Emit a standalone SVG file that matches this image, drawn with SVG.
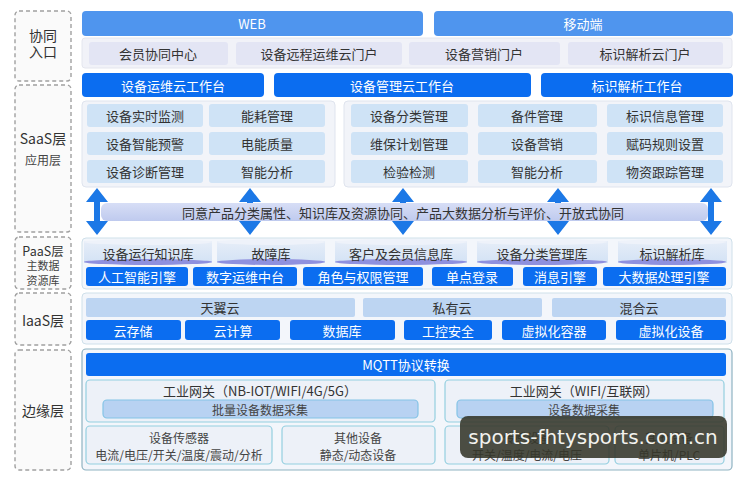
<svg xmlns="http://www.w3.org/2000/svg" width="748" height="480" viewBox="0 0 748 480">
<defs>
<style>
text{font-family:"Noto Sans CJK SC","Liberation Sans",sans-serif;text-anchor:middle;dominant-baseline:central;}
.lbl{font-size:13px;fill:#333;}
.sub{font-size:12px;fill:#444;}
.dash{fill:#fafafa;stroke:#a0a0a0;stroke-width:1.4;stroke-dasharray:4 3;}
.light{fill:#4f95ee;}
.blue{fill:#0b6df0;}
.wt{font-size:13px;fill:#fff;}
.portal{fill:#e3e5f4;}
.cont{fill:#f2f4f9;stroke:#dfe4ee;stroke-width:1;}
.sitem{fill:#cfe3f6;}
.dt{font-size:13px;fill:#333;}
.cloud{fill:#bdd5f2;}
.gw{fill:#edf1f8;stroke:#94cfe0;stroke-width:1.2;}
.coll{fill:#b8d2f2;stroke:#84c3e6;stroke-width:1.2;}
.arrow{fill:#1c78e6;}
</style>
<linearGradient id="band" x1="0" y1="0" x2="0" y2="1">
<stop offset="0" stop-color="#d7def6"/>
<stop offset="1" stop-color="#bfcaee"/>
</linearGradient>
<linearGradient id="db" x1="0" y1="0" x2="0" y2="1">
<stop offset="0" stop-color="#e6edf8"/>
<stop offset="1" stop-color="#d3e2f5"/>
</linearGradient>
</defs>
<rect width="748" height="480" fill="#ffffff"/>

<!-- left layer labels -->
<g id="layer-entry"><rect class="dash" x="15" y="11" width="56" height="70" rx="4"/><text class="lbl" x="43" y="35" style="font-size:14px">协同</text><text class="lbl" x="43" y="51" style="font-size:14px">入口</text></g>
<g id="layer-saas"><rect class="dash" x="15" y="85" width="56" height="147" rx="4"/><text class="lbl" x="43" y="138" style="font-size:14px">SaaS层</text><text class="sub" x="43" y="159">应用层</text></g>
<g id="layer-paas"><rect class="dash" x="15" y="237" width="56" height="52" rx="4"/><text class="lbl" x="43" y="250" style="font-size:12.5px">PaaS层</text><text class="sub" x="43" y="265" style="font-size:11px">主数据</text><text class="sub" x="43" y="279.5" style="font-size:11px">资源库</text></g>
<g id="layer-iaas"><rect class="dash" x="15" y="293" width="56" height="52" rx="4"/><text class="lbl" x="43" y="320" style="font-size:14px">IaaS层</text></g>
<g id="layer-edge"><rect class="dash" x="15" y="350" width="56" height="120" rx="4"/><text class="lbl" x="43" y="410" style="font-size:14px">边缘层</text></g>

<!-- entry -->
<g id="web"><rect class="light" x="82" y="11" width="341" height="25" rx="4"/><text class="wt" x="252" y="23.5">WEB</text></g>
<g id="mobile"><rect class="light" x="434" y="11" width="299" height="25" rx="4"/><text class="wt" x="583" y="23.5">移动端</text></g>
<g id="portals">
<rect x="82" y="38" width="650" height="30" rx="3" fill="#f1f2f8" stroke="#e4e6ee"/>
<rect class="portal" x="89" y="42" width="139" height="23" rx="3"/><text class="dt" x="158" y="53.5">会员协同中心</text>
<rect class="portal" x="236" y="42" width="166" height="23" rx="3"/><text class="dt" x="319" y="53.5">设备远程运维云门户</text>
<rect class="portal" x="409" y="42" width="151" height="23" rx="3"/><text class="dt" x="484" y="53.5">设备营销门户</text>
<rect class="portal" x="568" y="42" width="155" height="23" rx="3"/><text class="dt" x="645" y="53.5">标识解析云门户</text>
</g>
<g id="wb1"><rect class="blue" x="82" y="73" width="182" height="24" rx="4"/><text class="wt" x="173" y="85">设备运维云工作台</text></g>
<g id="wb2"><rect class="blue" x="274" y="73" width="257" height="24" rx="4"/><text class="wt" x="402" y="85">设备管理云工作台</text></g>
<g id="wb3"><rect class="blue" x="541" y="73" width="192" height="24" rx="4"/><text class="wt" x="637" y="85">标识解析工作台</text></g>

<!-- SaaS -->
<g id="saas-left">
<rect class="cont" x="82" y="101" width="253" height="86" rx="4"/>
<rect class="sitem" x="87" y="104" width="116" height="23" rx="3"/><text class="dt" x="145" y="115.5">设备实时监测</text>
<rect class="sitem" x="209" y="104" width="116" height="23" rx="3"/><text class="dt" x="267" y="115.5">能耗管理</text>
<rect class="sitem" x="87" y="132" width="116" height="23" rx="3"/><text class="dt" x="145" y="143.5">设备智能预警</text>
<rect class="sitem" x="209" y="132" width="116" height="23" rx="3"/><text class="dt" x="267" y="143.5">电能质量</text>
<rect class="sitem" x="87" y="160" width="116" height="23" rx="3"/><text class="dt" x="145" y="171.5">设备诊断管理</text>
<rect class="sitem" x="209" y="160" width="116" height="23" rx="3"/><text class="dt" x="267" y="171.5">智能分析</text>
</g>
<g id="saas-right">
<rect class="cont" x="344" y="101" width="388" height="86" rx="4"/>
<rect class="sitem" x="351" y="104" width="117" height="23" rx="3"/><text class="dt" x="409" y="115.5">设备分类管理</text>
<rect class="sitem" x="478" y="104" width="119" height="23" rx="3"/><text class="dt" x="537" y="115.5">备件管理</text>
<rect class="sitem" x="607" y="104" width="116" height="23" rx="3"/><text class="dt" x="665" y="115.5">标识信息管理</text>
<rect class="sitem" x="351" y="132" width="117" height="23" rx="3"/><text class="dt" x="409" y="143.5">维保计划管理</text>
<rect class="sitem" x="478" y="132" width="119" height="23" rx="3"/><text class="dt" x="537" y="143.5">设备营销</text>
<rect class="sitem" x="607" y="132" width="116" height="23" rx="3"/><text class="dt" x="665" y="143.5">赋码规则设置</text>
<rect class="sitem" x="351" y="160" width="117" height="23" rx="3"/><text class="dt" x="409" y="171.5">检验检测</text>
<rect class="sitem" x="478" y="160" width="119" height="23" rx="3"/><text class="dt" x="537" y="171.5">智能分析</text>
<rect class="sitem" x="607" y="160" width="116" height="23" rx="3"/><text class="dt" x="665" y="171.5">物资跟踪管理</text>
</g>

<!-- connectors -->
<g id="connectors">
<path class="arrow" d="M97 188 L108 202 L100 202 L100 221 L108 221 L97 235 L86 221 L94 221 L94 202 L86 202 Z"/>
<path class="arrow" d="M250 188 L261 202 L253 202 L253 221 L261 221 L250 235 L239 221 L247 221 L247 202 L239 202 Z"/>
<path class="arrow" d="M403 188 L414 202 L406 202 L406 221 L414 221 L403 235 L392 221 L400 221 L400 202 L392 202 Z"/>
<path class="arrow" d="M558 188 L569 202 L561 202 L561 221 L569 221 L558 235 L547 221 L555 221 L555 202 L547 202 Z"/>
<path class="arrow" d="M711 188 L722 202 L714 202 L714 221 L722 221 L711 235 L700 221 L708 221 L708 202 L700 202 Z"/>
</g>
<g id="band"><rect x="101" y="203" width="607" height="18" rx="6" fill="url(#band)"/><text class="dt" x="403" y="212">同意产品分类属性、知识库及资源协同、产品大数据分析与评价、开放式协同</text></g>

<!-- PaaS -->
<g id="paas">
<rect x="82" y="238" width="650" height="51" rx="4" fill="#f3f6fb" stroke="#cfe0ea"/>
<g id="db1"><rect x="84" y="241" width="128" height="22" fill="url(#db)"/><ellipse cx="148" cy="242" rx="64" ry="3" fill="#eef2fa"/><ellipse cx="148" cy="262" rx="64" ry="3" fill="#8f90de"/><text class="dt" x="148" y="253">设备运行知识库</text></g>
<g id="db2"><rect x="217" y="241" width="108" height="22" fill="url(#db)"/><ellipse cx="271" cy="242" rx="54" ry="3" fill="#eef2fa"/><ellipse cx="271" cy="262" rx="54" ry="3" fill="#8f90de"/><text class="dt" x="271" y="253">故障库</text></g>
<g id="db3"><rect x="335" y="241" width="132" height="22" fill="url(#db)"/><ellipse cx="401" cy="242" rx="66" ry="3" fill="#eef2fa"/><ellipse cx="401" cy="262" rx="66" ry="3" fill="#8f90de"/><text class="dt" x="401" y="253">客户及会员信息库</text></g>
<g id="db4"><rect x="477" y="241" width="131" height="22" fill="url(#db)"/><ellipse cx="542" cy="242" rx="65" ry="3" fill="#eef2fa"/><ellipse cx="542" cy="262" rx="65" ry="3" fill="#8f90de"/><text class="dt" x="542" y="253">设备分类管理库</text></g>
<g id="db5"><rect x="618" y="241" width="109" height="22" fill="url(#db)"/><ellipse cx="672" cy="242" rx="54" ry="3" fill="#eef2fa"/><ellipse cx="672" cy="262" rx="54" ry="3" fill="#8f90de"/><text class="dt" x="672" y="253">标识解析库</text></g>
<rect class="blue" x="86" y="267" width="102" height="19" rx="3"/><text class="wt" x="137" y="276.5">人工智能引擎</text>
<rect class="blue" x="193" y="267" width="104" height="19" rx="3"/><text class="wt" x="245" y="276.5">数字运维中台</text>
<rect class="blue" x="303" y="267" width="120" height="19" rx="3"/><text class="wt" x="363" y="276.5">角色与权限管理</text>
<rect class="blue" x="432" y="267" width="81" height="19" rx="3"/><text class="wt" x="472" y="276.5">单点登录</text>
<rect class="blue" x="523" y="267" width="74" height="19" rx="3"/><text class="wt" x="560" y="276.5">消息引擎</text>
<rect class="blue" x="603" y="267" width="123" height="19" rx="3"/><text class="wt" x="664" y="276.5">大数据处理引擎</text>
</g>

<!-- IaaS -->
<g id="iaas">
<rect x="82" y="293" width="650" height="51" rx="4" fill="#f3f6fb" stroke="#cfe0ea"/>
<rect class="cloud" x="86" y="298" width="269" height="19" rx="2"/><text class="dt" x="220" y="307.5">天翼云</text>
<rect class="cloud" x="363" y="298" width="179" height="19" rx="2"/><text class="dt" x="452" y="307.5">私有云</text>
<rect class="cloud" x="552" y="298" width="174" height="19" rx="2"/><text class="dt" x="639" y="307.5">混合云</text>
<rect class="blue" x="86" y="320" width="95" height="20" rx="3"/><text class="wt" x="133" y="330">云存储</text>
<rect class="blue" x="185" y="320" width="95" height="20" rx="3"/><text class="wt" x="233" y="330">云计算</text>
<rect class="blue" x="290" y="320" width="105" height="20" rx="3"/><text class="wt" x="342" y="330">数据库</text>
<rect class="blue" x="404" y="320" width="88" height="20" rx="3"/><text class="wt" x="448" y="330">工控安全</text>
<rect class="blue" x="502" y="320" width="104" height="20" rx="3"/><text class="wt" x="554" y="330">虚拟化容器</text>
<rect class="blue" x="616" y="320" width="110" height="20" rx="3"/><text class="wt" x="671" y="330">虚拟化设备</text>
</g>

<!-- Edge -->
<g id="edge">
<rect x="82" y="349" width="650" height="121" rx="4" fill="#f3f6fb" stroke="#8fb3c2" stroke-width="1.2"/>
<rect class="blue" x="86" y="353" width="640" height="23" rx="3"/><text class="wt" x="406" y="364.5">MQTT协议转换</text>
<g id="gw1"><rect class="gw" x="86" y="380" width="349" height="42" rx="4"/><text class="dt" x="260" y="390">工业网关（NB-IOT/WIFI/4G/5G）</text><rect class="coll" x="103" y="400" width="315" height="18" rx="4"/><text class="sub" x="260" y="409">批量设备数据采集</text></g>
<g id="gw2"><rect class="gw" x="445" y="380" width="279" height="42" rx="4"/><text class="dt" x="584" y="390">工业网关（WIFI/互联网）</text><rect class="coll" x="457" y="400" width="256" height="18" rx="4"/><text class="sub" x="584" y="409">设备数据采集</text></g>
<g id="dev1"><rect class="gw" x="86" y="426" width="186" height="38" rx="4"/><text class="sub" x="179" y="437">设备传感器</text><text class="sub" x="179" y="454">电流/电压/开关/温度/震动/分析</text></g>
<g id="dev2"><rect class="gw" x="282" y="426" width="153" height="38" rx="4"/><text class="sub" x="358" y="437">其他设备</text><text class="sub" x="358" y="454">静态/动态设备</text></g>
<g id="dev3"><rect class="gw" x="445" y="426" width="164" height="38" rx="4"/><text class="sub" x="527" y="437">传感设备</text><text class="sub" x="527" y="454">开关/温度/电流/电压</text></g>
<g id="dev4"><rect class="gw" x="615" y="426" width="109" height="38" rx="4"/><text class="sub" x="669" y="437">其他设备</text><text class="sub" x="669" y="454">单片机/PLC</text></g>
</g>

<!-- watermark -->
<g id="watermark"><rect x="460" y="416" width="267" height="42" rx="8" fill="#343629" fill-opacity="0.88"/><text x="593" y="437" style="font-family:'DejaVu Sans',sans-serif;font-size:20px;fill:#f2f2ee">sports-fhtysports.com.cn</text></g>
</svg>
